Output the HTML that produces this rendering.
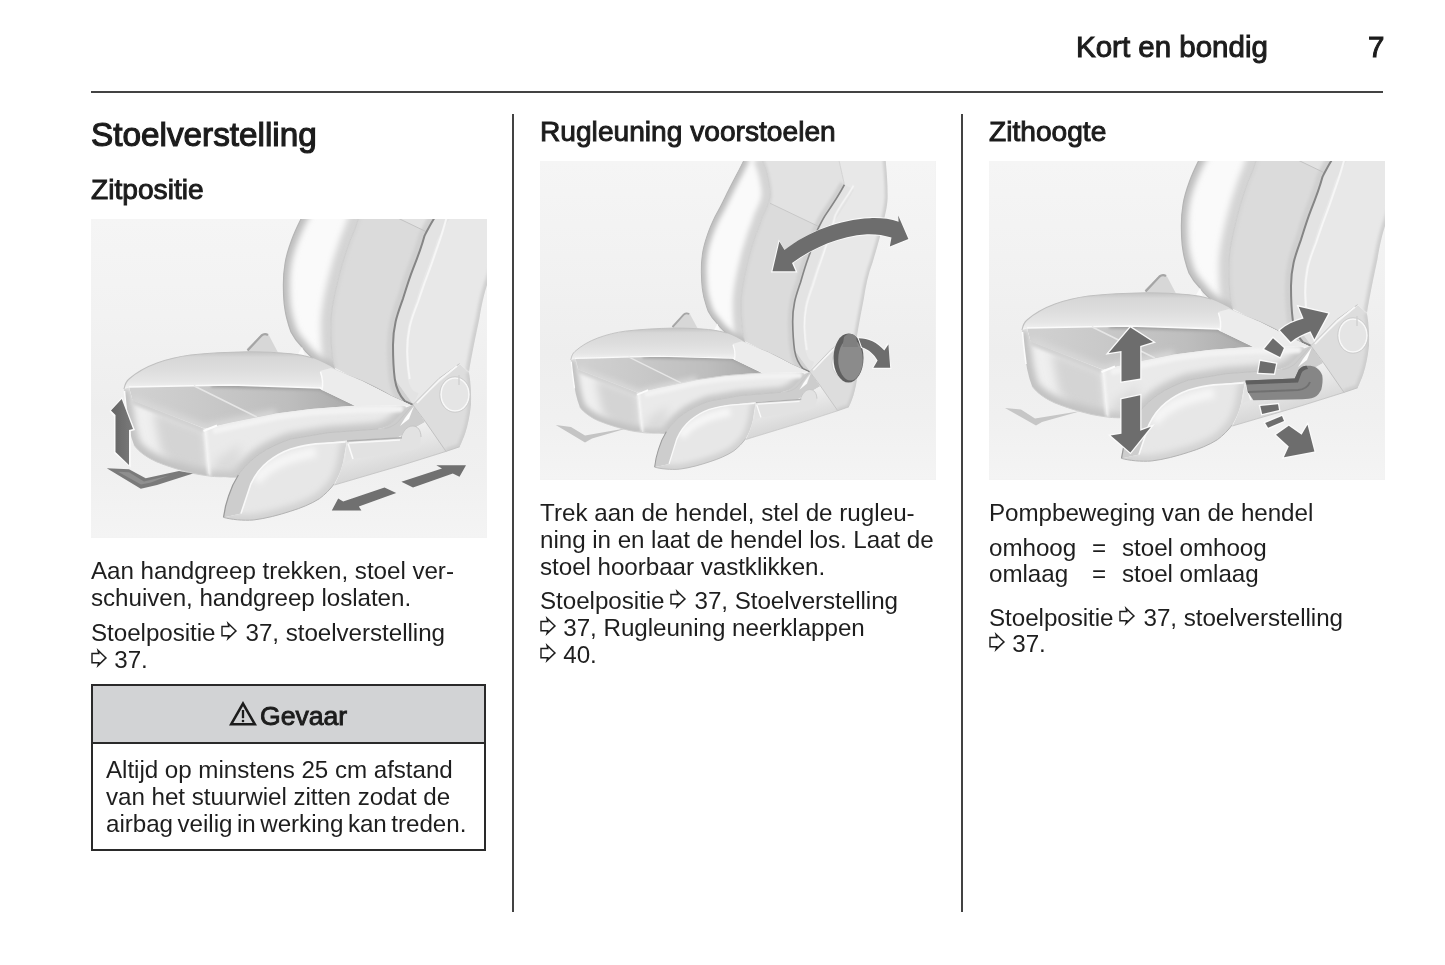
<!DOCTYPE html>
<html lang="nl">
<head>
<meta charset="utf-8">
<title>Kort en bondig - Stoelverstelling</title>
<style>
html,body{margin:0;padding:0;background:#fff;}
body{width:1445px;height:965px;position:relative;overflow:hidden;
  font-family:"Liberation Sans",sans-serif;color:#1c1c1c;}
.abs{position:absolute;white-space:nowrap;will-change:transform;}
.hd{font-size:29.5px;line-height:34px;-webkit-text-stroke:1px #1c1c1c;}
.h1{font-size:33.3px;line-height:38px;-webkit-text-stroke:1.15px #1c1c1c;}
.h2{font-size:28.15px;line-height:32px;-webkit-text-stroke:0.95px #1c1c1c;}
.t{font-size:24.2px;line-height:27px;color:#1e1e1e;letter-spacing:-0.045px;}
.rule{position:absolute;background:#434343;}
.img{position:absolute;width:395.5px;height:318.5px;overflow:hidden;background:#f2f2f2;}
.img svg{position:absolute;left:0;top:0;}
.ar{display:inline-block;width:17px;height:20px;vertical-align:0.3px;margin:0 7.5px 0 5.5px;}
.ar0{margin-left:0;margin-right:6.3px;}
.warn{position:absolute;left:91px;top:684px;width:391px;height:163px;border:2px solid #2a2a2a;background:#fff;}
.warn .wh{position:absolute;left:0;top:0;width:391px;height:56px;background:#d2d3d5;border-bottom:2px solid #2a2a2a;}
</style>
</head>
<body>

<!-- running header -->
<div class="abs hd" id="hd1" style="left:1076.4px;top:29.9px;">Kort en bondig</div>
<div class="abs hd" id="hd2" style="left:1368.3px;top:29.9px;">7</div>
<div class="rule" style="left:91px;top:90.9px;width:1292.2px;height:2.1px;"></div>

<!-- column separators -->
<div class="rule" style="left:511.9px;top:113.7px;width:2.1px;height:798.1px;"></div>
<div class="rule" style="left:960.8px;top:113.7px;width:2.1px;height:798.1px;"></div>

<!-- column 1 -->
<div class="abs h1" id="h1" style="left:91px;top:115.7px;">Stoelverstelling</div>
<div class="abs h2" id="h2a" style="left:91px;top:173.9px;">Zitpositie</div>
<div class="img" id="img1" style="left:91px;top:219px;">
<svg width="395.5" height="318.5" viewBox="0 0 395.5 318.5">
<defs>
  <linearGradient id="gBg" x1="0" y1="0" x2="0" y2="1">
    <stop offset="0" stop-color="#f5f5f5"/><stop offset="0.3" stop-color="#f2f2f2"/><stop offset="0.6" stop-color="#eeeeee"/><stop offset="0.8" stop-color="#f0f0f0"/><stop offset="1" stop-color="#f4f4f4"/>
  </linearGradient>
  <linearGradient id="gLB" gradientUnits="userSpaceOnUse" x1="196" y1="80" x2="246" y2="70">
    <stop offset="0" stop-color="#c9c9c9"/><stop offset="0.18" stop-color="#e6e6e6"/><stop offset="0.5" stop-color="#f8f8f8"/><stop offset="0.85" stop-color="#efefef"/><stop offset="1" stop-color="#d9d9d9"/>
  </linearGradient>
  <linearGradient id="gCP" gradientUnits="userSpaceOnUse" x1="245" y1="60" x2="315" y2="90">
    <stop offset="0" stop-color="#dcdcdc"/><stop offset="0.5" stop-color="#e1e1e1"/><stop offset="1" stop-color="#dedede"/>
  </linearGradient>
  <linearGradient id="gRB" gradientUnits="userSpaceOnUse" x1="315" y1="80" x2="392" y2="100">
    <stop offset="0" stop-color="#e2e2e2"/><stop offset="0.12" stop-color="#f6f6f6"/><stop offset="0.3" stop-color="#ebebeb"/><stop offset="0.8" stop-color="#e9e9e9"/><stop offset="1" stop-color="#dedede"/>
  </linearGradient>
  <linearGradient id="gPanel" gradientUnits="userSpaceOnUse" x1="50" y1="185" x2="260" y2="180">
    <stop offset="0" stop-color="#d0d0d0"/><stop offset="0.3" stop-color="#c9c9c9"/><stop offset="0.7" stop-color="#bebebe"/><stop offset="1" stop-color="#ababab"/>
  </linearGradient>
  <linearGradient id="gFront" gradientUnits="userSpaceOnUse" x1="70" y1="185" x2="60" y2="250">
    <stop offset="0" stop-color="#f4f4f4"/><stop offset="0.45" stop-color="#ececec"/><stop offset="1" stop-color="#cdcdcd"/>
  </linearGradient>
  <linearGradient id="gRim" gradientUnits="userSpaceOnUse" x1="0" y1="134" x2="0" y2="170">
    <stop offset="0" stop-color="#c8c8c8"/><stop offset="0.12" stop-color="#d7d7d7"/><stop offset="0.5" stop-color="#dedede"/><stop offset="0.8" stop-color="#e6e6e6"/><stop offset="0.94" stop-color="#efefef"/><stop offset="1" stop-color="#fafafa"/>
  </linearGradient>
  <linearGradient id="gSide" gradientUnits="userSpaceOnUse" x1="200" y1="192" x2="206" y2="222">
    <stop offset="0" stop-color="#f6f6f6"/><stop offset="0.5" stop-color="#ededed"/><stop offset="1" stop-color="#d8d8d8"/>
  </linearGradient>
  <linearGradient id="gTrim" gradientUnits="userSpaceOnUse" x1="170" y1="240" x2="215" y2="300">
    <stop offset="0" stop-color="#f2f2f2"/><stop offset="0.5" stop-color="#e6e6e6"/><stop offset="1" stop-color="#dcdcdc"/>
  </linearGradient>
  <linearGradient id="gTrim2" gradientUnits="userSpaceOnUse" x1="280" y1="215" x2="290" y2="255">
    <stop offset="0" stop-color="#f0f0f0"/><stop offset="0.5" stop-color="#e4e4e4"/><stop offset="1" stop-color="#d6d6d6"/>
  </linearGradient>
  <linearGradient id="gArrowV" gradientUnits="userSpaceOnUse" x1="22" y1="0" x2="40" y2="0">
    <stop offset="0" stop-color="#666"/><stop offset="1" stop-color="#787878"/>
  </linearGradient>
  <filter id="fSoft" filterUnits="userSpaceOnUse" x="-100" y="-150" width="700" height="650"><feGaussianBlur stdDeviation="0.65"/></filter>
  <filter id="fSoft2" filterUnits="userSpaceOnUse" x="-100" y="-150" width="700" height="650"><feGaussianBlur stdDeviation="1.6"/></filter>
  <filter id="fSoft3" filterUnits="userSpaceOnUse" x="-100" y="-150" width="700" height="650"><feGaussianBlur stdDeviation="3"/></filter>
  <filter id="fSoft4" filterUnits="userSpaceOnUse" x="-100" y="-150" width="700" height="650"><feGaussianBlur stdDeviation="5"/></filter>
</defs>

<rect x="0" y="0" width="395.5" height="318.5" fill="url(#gBg)"/>
<g filter="url(#fSoft)">
<g id="seat">
  <clipPath id="cRB"><path d="M360 -70 L367 -37 C360 -24 350 -10 342.8 0 C339 6 336 12 333.6 16.6 C330 30 326 40 322 49.8 C318 60 315 70 312 79.6 C309 88 306 96 304.6 102.8 C302.5 112 302 120 302 126 C302 140 302.5 150 303.8 160 L324 188 L369 145 L378 153 C380 140 384 120 388.4 99.5 C391 84 394 70 400 55 C406 36 411 20 414 6 C417 -6 419 -14 419 -23 C419.5 -40 418 -55 417 -70 Z"/></clipPath>
  <clipPath id="cLB"><path d="M247.4 -70 C240 -55 230 -38 222.5 -23 C218 -14 213.5 -6 210 0 C206.5 7 203 14.5 200.5 21.5 C197 31 195 38 194 45 C192.8 52 192.3 59 192.4 66 C192.4 73 192.6 79 193.2 85 C194 91 194.8 96 196 100 C197.3 105 198.5 109 200 113 C203 119 206.5 123.5 211 128 C216 135 222 140 229 144 C235 147.5 240 149.5 244 150 L244 149 C243 146 241.5 140 240.8 132.7 C240 122 239.5 112 240 99.5 C241 88 243 78 245.8 66.3 C249 52 253 38 259 21.6 C262 15 264 10 267.3 0 C271 -7 275 -14 276.6 -23 C277 -30 276.5 -36 274.5 -45 C273.5 -52 271 -60 266.5 -70 Z"/></clipPath>
  <clipPath id="cCP"><path d="M266.5 -70 C271 -60 273.5 -52 274.5 -45 C276.5 -36 277 -30 276.6 -23 C275 -14 271 -7 267.3 0 C264 10 262 15 259 21.6 C253 38 249 52 245.8 66.3 C243 78 241 88 240 99.5 C239.5 112 240 122 240.8 132.7 C241.5 140 243 146 244 149 C255 155 262 158 271 162 C282 167 292 172 300 177 L324 188 L303.8 160 C302.5 150 302 140 302 126 C302 120 302.5 112 304.6 102.8 C306 96 309 88 312 79.6 C315 70 318 60 322 49.8 C326 40 330 30 333.6 16.6 C336 12 339 6 342.8 0 C350 -10 360 -24 367 -37 L360 -70 Z"/></clipPath>
  <clipPath id="cFront"><path d="M33 170 L38 168.5 L41.5 181 L114 210 L118 256.5 C112 256.2 107 255.3 102.8 254.5 C90 251.5 77 247.5 66 243 C56 238.5 48 233 43 226 C39 216 37 204 35.6 193 C34.3 184 33.3 176 33 170 Z"/></clipPath>
  <clipPath id="cSide"><path d="M114 210 L140 204 L185.6 194 L220 189.5 L265 187 L312 186.5 L316 188 C312 196 308 201 302 204.5 C297 207.5 292 209 287 210 L237 213.7 L199.7 220 C188 224 177 229 168.6 234.9 C160 241 152 249 147.4 256 L146 258.5 C138 258.5 128 258 118 256.5 Z"/></clipPath>
  <clipPath id="cPanel"><path d="M38 168 L140 166 L229 169 L265 186.5 L220 190 L185 194.5 L140 203.5 L114 209.5 L41.5 181.5 Z"/></clipPath>
  <clipPath id="cTrimF"><path d="M150 294.6 L159.9 264.8 C164 256 170 248 177.3 242.3 C184 237 191 233 199.7 229.9 C207 228 215 226 224.6 224.9 L255.8 222.4 L252 243.6 C250 252 247 259 243.3 264.8 C239 270.5 234 275.5 228.4 279.7 C220 285 210 289 199.7 292.2 C188 296 175 299.5 162.4 300.9 C152 301.5 140 300.5 132.5 298.4 Z"/></clipPath>
  <clipPath id="cTrimR"><path d="M255.8 221.5 L306 218.5 L334 203 L322 186 L369 145 L378 153.5 C380 165 380.3 176 380 185.6 C379 196 377 206 374.3 214 C372.5 219 370.5 224 368.6 227.8 L355 232.4 L311.6 246 L243.3 266 C247 259 250 252 252 243.6 Z"/></clipPath>

  <!-- backrest right bolster / side -->
  <g clip-path="url(#cRB)">
    <path d="M360 -70 L367 -37 C360 -24 350 -10 342.8 0 C339 6 336 12 333.6 16.6 C330 30 326 40 322 49.8 C318 60 315 70 312 79.6 C309 88 306 96 304.6 102.8 C302.5 112 302 120 302 126 C302 140 302.5 150 303.8 160 L324 188 L369 145 L378 153 C380 140 384 120 388.4 99.5 C391 84 394 70 400 55 C406 36 411 20 414 6 C417 -6 419 -14 419 -23 C419.5 -40 418 -55 417 -70 Z" fill="#e8e8e8"/>
    <path d="M378 153 C380 140 384 120 388.4 99.5 C391 84 394 70 400 55 C406 36 411 20 414 6 C417 -6 419 -14 419 -23 C419.5 -40 418 -55 417 -70" stroke="#cfcfcf" stroke-width="7" fill="none" filter="url(#fSoft2)"/>
    <path d="M367 -37 C360 -24 350 -10 342.8 0 C339 6 336 12 333.6 16.6 C330 30 326 40 322 49.8 C318 60 315 70 312 79.6 C309 88 306 96 304.6 102.8 C302.5 112 302 120 302 126 C302 140 302.5 150 303.8 160 C305 168 308 176 313.9 182.2 L322 186" stroke="#e3e3e3" stroke-width="26" fill="none"/>
    <path d="M378 -36 C370 -22 361 -12 355.2 0 C353 8 351 15 348.6 21.6 C345 32 341 44 337 54.7 C333 65 330 74 327 83 C323 93 320.5 100 318.7 107.8 C317 116 316.2 124 316.2 132.7 C316.4 142 317 150 318.7 160" stroke="#f6f6f6" stroke-width="2" fill="none" filter="url(#fSoft)"/>
  </g>
  <!-- backrest centre panel -->
  <g clip-path="url(#cCP)">
    <path d="M266.5 -70 C271 -60 273.5 -52 274.5 -45 C276.5 -36 277 -30 276.6 -23 C275 -14 271 -7 267.3 0 C264 10 262 15 259 21.6 C253 38 249 52 245.8 66.3 C243 78 241 88 240 99.5 C239.5 112 240 122 240.8 132.7 C241.5 140 243 146 244 149 C255 155 262 158 271 162 C282 167 292 172 300 177 L324 188 L303.8 160 C302.5 150 302 140 302 126 C302 120 302.5 112 304.6 102.8 C306 96 309 88 312 79.6 C315 70 318 60 322 49.8 C326 40 330 30 333.6 16.6 C336 12 339 6 342.8 0 C350 -10 360 -24 367 -37 L360 -70 Z" fill="#dbdbdb"/>
    <path d="M276.6 -15.5 L308.8 0 L335 12.6 L342.8 0 C350 -10 360 -24 367 -37 L360 -70 L266.5 -70 C271 -60 273.5 -52 274.5 -45 C276.5 -36 277 -30 276.6 -23 Z" fill="#e2e2e2"/>
    <path d="M367 -37 C360 -24 350 -10 342.8 0 C339 6 336 12 333.6 16.6 C330 30 326 40 322 49.8 C318 60 315 70 312 79.6 C309 88 306 96 304.6 102.8 C302.5 112 302 120 302 126 C302 140 302.5 150 303.8 160 C305 168 308 176 313.9 182.2 L322 186" stroke="#d0d0d0" stroke-width="12" fill="none" filter="url(#fSoft2)"/>
    <path d="M266.5 -70 C271 -60 273.5 -52 274.5 -45 C276.5 -36 277 -30 276.6 -23 C275 -14 271 -7 267.3 0 C264 10 262 15 259 21.6 C253 38 249 52 245.8 66.3 C243 78 241 88 240 99.5 C239.5 112 240 122 240.8 132.7 C241.5 140 243 146 244 149" stroke="#d6d6d6" stroke-width="6" fill="none" filter="url(#fSoft2)"/>
  </g>
  <path d="M276.6 -15.5 L308.8 0 L335 12.6" stroke="#c3c3c3" stroke-width="1" fill="none"/>
  <!-- left bolster -->
  <g clip-path="url(#cLB)">
    <path d="M247.4 -70 C240 -55 230 -38 222.5 -23 C218 -14 213.5 -6 210 0 C206.5 7 203 14.5 200.5 21.5 C197 31 195 38 194 45 C192.8 52 192.3 59 192.4 66 C192.4 73 192.6 79 193.2 85 C194 91 194.8 96 196 100 C197.3 105 198.5 109 200 113 C203 119 206.5 123.5 211 128 C216 135 222 140 229 144 C235 147.5 240 149.5 244 150 L244 149 C243 146 241.5 140 240.8 132.7 C240 122 239.5 112 240 99.5 C241 88 243 78 245.8 66.3 C249 52 253 38 259 21.6 C262 15 264 10 267.3 0 C271 -7 275 -14 276.6 -23 C277 -30 276.5 -36 274.5 -45 C273.5 -52 271 -60 266.5 -70 Z" fill="#fafafa"/>
    <path d="M266.5 -70 C271 -60 273.5 -52 274.5 -45 C276.5 -36 277 -30 276.6 -23 C275 -14 271 -7 267.3 0 C264 10 262 15 259 21.6 C253 38 249 52 245.8 66.3 C243 78 241 88 240 99.5 C239.5 112 240 122 240.8 132.7 C241.5 140 243 146 244 149 L246 152" stroke="#d4d4d4" stroke-width="20" fill="none" filter="url(#fSoft3)"/>
    <path d="M247.4 -70 C240 -55 230 -38 222.5 -23 C218 -14 213.5 -6 210 0 C206.5 7 203 14.5 200.5 21.5 C197 31 195 38 194 45 C192.8 52 192.3 59 192.4 66 C192.4 73 192.6 79 193.2 85 C194 91 194.8 96 196 100 C197.3 105 198.5 109 200 113 C203 119 206.5 123.5 211 128 C216 135 222 140 229 144 C240 150 256 156 271 162" stroke="#bdbdbd" stroke-width="12" fill="none" filter="url(#fSoft3)"/>
  </g>
  <path d="M247.4 -70 C240 -55 230 -38 222.5 -23 C218 -14 213.5 -6 210 0 C206.5 7 203 14.5 200.5 21.5 C197 31 195 38 194 45 C192.8 52 192.3 59 192.4 66 C192.4 73 192.6 79 193.2 85 C194 91 194.8 96 196 100 C197.3 105 198.5 109 200 113 C203 119 206.5 123.5 211 128 C216 135 222 140 229 144 C240 150 256 156 271 162 C282 167 292 172 300 177 L322 187" stroke="#b4b4b4" stroke-width="1.2" fill="none"/>
  <path d="M266.5 -70 C271 -60 273.5 -52 274.5 -45 C276.5 -36 277 -30 276.6 -23 C275 -14 271 -7 267.3 0 C264 10 262 15 259 21.6 C253 38 249 52 245.8 66.3 C243 78 241 88 240 99.5 C239.5 112 240 122 240.8 132.7 C241.5 140 243 146 244 149" stroke="#cdcdcd" stroke-width="1" fill="none"/>
  <!-- dark line -->
  <path d="M367 -37 C360 -24 350 -10 342.8 0 C339 6 336 12 333.6 16.6 C330 30 326 40 322 49.8 C318 60 315 70 312 79.6 C309 88 306 96 304.6 102.8 C302.5 112 302 120 302 126 C302 140 302.5 150 303.8 160 C305 168 308 176 313.9 182.2 L322 186" stroke="#858585" stroke-width="2" fill="none"/>
  <path d="M360 -70 L367 -37" stroke="#cfcfcf" stroke-width="1" fill="none"/>

  <!-- belt buckle -->
  <path d="M156 129.5 L170 116 C172 114.3 175 114.3 177.5 115.5 L187 133.5 L158 134 Z" fill="#d7d7d7"/>
  <path d="M156.5 131.5 L170.5 116.5 C172.5 115 175 115 177 116" stroke="#a5a5a5" stroke-width="2.2" fill="none"/>
  <path d="M211 128 L207 135 L214 137 Z" fill="#fafafa"/>

  <!-- cushion rim -->
  <path d="M33 170 C34 165 35.5 162 38 160 C46 153 55 148 66 144 C77 140 88 137.5 99.5 136 C118 134 138 133 157.5 132.7 C172 132.7 186 133.3 200 134.7 C208 135.5 215 137 222 139 C230 142 238 146 244 150 C256 156 266 160 271 162 L300 177 L322 187 L316 190 L265 187 L229 169.5 L140 166.5 L38 168.5 Z" fill="url(#gRim)"/>
  <path d="M33 170 C34 165 35.5 162 38 160 C46 153 55 148 66 144 C77 140 88 137.5 99.5 136 C118 134 138 133 157.5 132.7 C172 132.7 186 133.3 200 134.7 C208 135.5 215 137 222 139" stroke="#c0c0c0" stroke-width="1.1" fill="none"/>
  <!-- cushion front face -->
  <g clip-path="url(#cFront)">
    <path d="M33 170 L38 168.5 L41.5 181 L114 210 L118 256.5 C112 256.2 107 255.3 102.8 254.5 C90 251.5 77 247.5 66 243 C56 238.5 48 233 43 226 C39 216 37 204 35.6 193 C34.3 184 33.3 176 33 170 Z" fill="#efefef"/>
    <path d="M62 192 L114 211 L118 257 L84 250 L70 232 Z" fill="#d4d4d4" filter="url(#fSoft4)"/>
    <path d="M33 170 C33.3 176 34.3 184 35.6 193 C37 204 39 216 43 226 C48 233 56 238.5 66 243 C77 247.5 90 251.5 102.8 254.5 C112 256.3 122 257.8 129.3 257.8 C136 257.8 142 256.5 146 254.5" stroke="#c2c2c2" stroke-width="14" fill="none" filter="url(#fSoft3)"/>
    <path d="M41.5 181 L114 210" stroke="#d2d2d2" stroke-width="8" fill="none" filter="url(#fSoft2)"/>
  </g>
  <!-- cushion side (right of ridge) -->
  <g clip-path="url(#cSide)">
    <path d="M114 210 L140 204 L185.6 194 L220 189.5 L265 187 L312 186.5 L316 188 C312 196 308 201 302 204.5 C297 207.5 292 209 287 210 L237 213.7 L199.7 220 C188 224 177 229 168.6 234.9 C160 241 152 249 147.4 256 L146 258.5 C138 258.5 128 258 118 256.5 Z" fill="#eaeaea"/>
    <path d="M125 240 L150 225 L146 262 L120 262 Z" fill="#dcdcdc" filter="url(#fSoft4)"/>
    <path d="M118 258 C128 259 138 259.5 146 258.5 L147.4 256 C152 249 160 241 168.6 234.9 C177 229 188 224 199.7 220 L237 213.7 L287 210 C297 208 306 202 316 188" stroke="#c8c8c8" stroke-width="13" fill="none" filter="url(#fSoft3)"/>
    <path d="M122 212 L185.6 198 L220 193.5 L265 191 L312 190" stroke="#f3f3f3" stroke-width="6" fill="none" filter="url(#fSoft2)"/>
  </g>
  <!-- top panel -->
  <g filter="url(#fSoft)">
  <g clip-path="url(#cPanel)">
    <path d="M38 168 L140 166 L229 169 L265 186.5 L220 190 L185 194.5 L140 203.5 L114 209.5 L41.5 181.5 Z" fill="url(#gPanel)"/>
    <path d="M120 166 L229 169 L265 186.5" stroke="#a2a2a2" stroke-width="5" fill="none" filter="url(#fSoft2)"/>
    <path d="M41.5 181.5 L114 209.5 L140 203.5 L185 194.5" stroke="#d8d8d8" stroke-width="8" fill="none" filter="url(#fSoft3)"/>
  </g>
  </g>
  <path d="M38 168 L140 166 L229 169 L265 186.5" stroke="#fbfbfb" stroke-width="1.5" fill="none"/>
  <path d="M102.8 166.8 L165.8 198" stroke="#e6e6e6" stroke-width="1.6" fill="none"/>
  <path d="M114 210.5 L118 256" stroke="#fbfbfb" stroke-width="2.2" fill="none" filter="url(#fSoft2)"/>
  <path d="M112.5 212 L126 206.5" stroke="#fcfcfc" stroke-width="2" fill="none"/>
  <path d="M33.5 172 C34.3 184 35.6 193 37 204" stroke="#fbfbfb" stroke-width="1.6" fill="none"/>
  <path d="M43 226 C48 233 56 238.5 66 243 C77 247.5 90 251.5 102.8 254.5 C112 256.3 122 257.8 129.3 257.8 C136 257.8 142 256.5 146 254.5" stroke="#cdcdcd" stroke-width="1" fill="none"/>
  <!-- rear bolster of cushion -->
  <path d="M229 152 C232 160 232 166 231 171 L265 187 L312 186.5 L322 187 L300 177 L271 162 C262 158 250 153 240 149 Z" fill="#ececec"/>
  <path d="M229.5 153 C232 160 232 166 231 171" stroke="#fbfbfb" stroke-width="1.5" fill="none"/>

  <!-- trim chamfer band -->
  <path d="M147.4 256 C152 249 160 241 168.6 234.9 C177 229 188 224 199.7 220 L237 213.7 L287 210 C293 209 299 206.5 305 200 L316 188 L322 186 L334 203 L306 219 L255.8 221.5 L224.6 224.9 C215 226 207 228 199.7 229.9 C191 233 184 237 177.3 242.3 C170 248 164 256 159.9 264.8 L150 294.6 L132.5 298.4 C133.5 291 135 284 137.5 277.2 C140 269 143.5 262 147.4 256 Z" fill="#cdcdcd"/>
  <!-- trim front face -->
  <g clip-path="url(#cTrimF)">
    <path d="M150 294.6 L159.9 264.8 C164 256 170 248 177.3 242.3 C184 237 191 233 199.7 229.9 C207 228 215 226 224.6 224.9 L255.8 222.4 L252 243.6 C250 252 247 259 243.3 264.8 C239 270.5 234 275.5 228.4 279.7 C220 285 210 289 199.7 292.2 C188 296 175 299.5 162.4 300.9 C152 301.5 140 300.5 132.5 298.4 Z" fill="#e7e7e7"/>
    <path d="M132.5 298.4 C140 300.5 152 301.8 162.4 301 C175 299.5 188 296 199.7 292.2 C210 289 220 285 228.4 279.7 C234 275.5 239 270.5 243.3 264.8 C247 259 250 252 252 243.6 L255.8 222.4" stroke="#d2d2d2" stroke-width="12" fill="none" filter="url(#fSoft3)"/>
    <path d="M165 262 C175 248 195 238 225 233" stroke="#f6f6f6" stroke-width="10" fill="none" filter="url(#fSoft3)"/>
  </g>
  <path d="M150 294.6 L159.9 264.8 C164 256 170 248 177.3 242.3 C184 237 191 233 199.7 229.9 C207 228 215 226 224.6 224.9 L254.5 223" stroke="#f9f9f9" stroke-width="1.6" fill="none"/>
  <path d="M132.5 298.4 C133.5 291 135 284 137.5 277.2 C140 269 143.5 262 147.4 256" stroke="#9a9a9a" stroke-width="1.2" fill="none"/>
  <path d="M132.5 298.4 C140 300.5 152 301.8 162.4 301 C175 299.5 188 296 199.7 292.2 C210 289 220 285 228.4 279.7 C234 275.5 239 270.5 243.3 264.8" stroke="#b2b2b2" stroke-width="1" fill="none"/>
  <path d="M147.4 256 C152 249 160 241 168.6 234.9 C177 229 188 224 199.7 220 L237 213.7 L287 210" stroke="#bfbfbf" stroke-width="0.9" fill="none"/>
  <!-- trim rear piece -->
  <g clip-path="url(#cTrimR)">
    <path d="M255.8 221.5 L306 218.5 L334 203 L322 186 L369 145 L378 153.5 C380 165 380.3 176 380 185.6 C379 196 377 206 374.3 214 C372.5 219 370.5 224 368.6 227.8 L355 232.4 L311.6 246 L243.3 266 C247 259 250 252 252 243.6 Z" fill="url(#gTrim2)"/>
    <path d="M322 186 L369 145 L378 153.5 C380 165 380.3 176 380 185.6 C379 196 377 206 374.3 214 C372.5 219 370.5 224 368.6 227.8 L355 232.4 L334.4 202.7 Z" fill="#dddddd"/>
    <path d="M378 153.5 C380 165 380.3 176 380 185.6 C379 196 377 206 374.3 214 C372.5 219 370.5 224 368.6 227.8 L355 232.4" stroke="#cdcdcd" stroke-width="6" fill="none" filter="url(#fSoft2)"/>
  </g>
  <!-- lever -->
  <path d="M256 222 L310 218.8 C312 212 316 207.5 321 207 C327 206.5 330 212 330 218 C330 225 326 230 320 231.5 L309 233 L262 240 L254 243 Z" fill="#e2e2e2"/>
  <path d="M256 222 L311 218.7" stroke="#b0b0b0" stroke-width="1.4" fill="none"/>
  <path d="M310 218.8 C312 212 316 207.5 321 207 C327 206.5 330 212 330 218" stroke="#c6c6c6" stroke-width="1" fill="none"/>
  <path d="M257 224.5 L262 240" stroke="#fafafa" stroke-width="1.6" fill="none"/>
  <path d="M258 224 L309 221" stroke="#f8f8f8" stroke-width="1.5" fill="none"/>
  <!-- X lines -->
  <path d="M322 186 L334.4 202.7 L355 232.4" stroke="#c2c2c2" stroke-width="1" fill="none"/>
  <path d="M368.6 144.6 L348 159.4 L322 185.6 L306 203.9 C302 207 298 208.8 293.4 209.6" stroke="#c6c6c6" stroke-width="1" fill="none"/>
  <path d="M323 187 L314 199 L309 207 L318 200 Z" fill="#fcfcfc" filter="url(#fSoft)"/>
  <path d="M366 147 L349 160.5 L326 184" stroke="#f7f7f7" stroke-width="1.6" fill="none"/>
  <path d="M243.3 266 L311.6 246 L355 232.4 L368.6 227.8" stroke="#c2c2c2" stroke-width="0.9" fill="none"/>
  <!-- knob -->
  <g class="knob">
  <ellipse cx="364" cy="175.5" rx="14" ry="16.5" fill="#e5e5e5" stroke="#f8f8f8" stroke-width="1.6"/>
  <ellipse cx="364" cy="175.5" rx="15.3" ry="17.8" fill="none" stroke="#cccccc" stroke-width="0.9"/>
  <path d="M368 156 L368 166" stroke="#d0d0d0" stroke-width="1.4"/>
  </g>
</g>

<!-- front handle -->
<path d="M15.8 249.3 L38 250.2 L54.7 259.3 L88 252 L102 254.5 L66 266 L49.8 269.7 Z" fill="#7a7a7a"/>
<path d="M27 252.8 L38 253.3 L53 262.5 L78 256.5 L60 263.5 L50 265.5 Z" fill="#8f8f8f"/>
<!-- up arrow -->
<path d="M31 178 L44 211 L39.8 212.2 L39.8 248.5 L23 234 L23 197.5 L18.5 192 Z" fill="#fafafa"/>
<path d="M30.7 180 L20 191.5 L24.5 196 L24.5 233 L38 246 L38 211 L42 210 Z" fill="url(#gArrowV)"/>
<!-- right arrow -->
<path d="M310.4 262.8 L322 268.6 L361.8 254.5 L368.5 257.8 L375 246.2 L345.3 246.2 L351 249.5 Z" fill="#6f6f6f"/>
<!-- left arrow -->
<path d="M240.8 291.6 L247.2 279.5 L252.2 282.5 L293.5 268.5 L305.2 274 L267.8 287.4 L270.4 291.6 Z" fill="#6f6f6f"/>
</g>
</svg>

</div>
<div class="abs t" id="c1l1" style="left:91px;top:556.7px;">Aan handgreep trekken, stoel ver-</div>
<div class="abs t" id="c1l2" style="left:91px;top:583.7px;">schuiven, handgreep loslaten.</div>
<div class="abs t" id="c1l3" style="left:91px;top:618.7px;">Stoelpositie<svg class="ar" viewBox="0 0 17 20"><path d="M1 5.4H7.8L7 2.3L15 9.9L7 17.5L7.8 14.8H1z" fill="none" stroke="#1e1e1e" stroke-width="1.45" stroke-linejoin="miter" stroke-miterlimit="10"/></svg>37, stoelverstelling</div>
<div class="abs t" id="c1l4" style="left:91px;top:645.7px;"><svg class="ar ar0" viewBox="0 0 17 20"><path d="M1 5.4H7.8L7 2.3L15 9.9L7 17.5L7.8 14.8H1z" fill="none" stroke="#1e1e1e" stroke-width="1.45" stroke-linejoin="miter" stroke-miterlimit="10"/></svg>37.</div>

<div class="warn">
  <div class="wh"></div>
</div>
<svg class="abs" style="left:229px;top:701px;" width="28" height="25" viewBox="0 0 28 25"><path d="M14 2.6L25.8 23.2H2.2z" fill="none" stroke="#1c1c1c" stroke-width="2.6" stroke-linejoin="miter"/><path d="M14 9v8.2" stroke="#1c1c1c" stroke-width="2.3"/><circle cx="14" cy="20" r="1.3" fill="#1c1c1c"/></svg>
<div class="abs" id="gev" style="left:259.5px;top:700px;font-size:26.6px;line-height:32px;-webkit-text-stroke:0.9px #1c1c1c;">Gevaar</div>
<div class="abs t" id="w1" style="left:105.5px;top:755.7px;">Altijd op minstens 25 cm afstand</div>
<div class="abs t" id="w2" style="left:105.5px;top:782.7px;">van het stuurwiel zitten zodat de</div>
<div class="abs t" id="w3" style="word-spacing:-2.1px;left:105.5px;top:809.7px;">airbag veilig in werking kan treden.</div>

<!-- column 2 -->
<div class="abs h2" id="h2b" style="left:540px;top:115.5px;">Rugleuning voorstoelen</div>
<div class="img" id="img2" style="left:540px;top:161px;">
<svg width="395.5" height="318.5" viewBox="0 0 395.5 318.5">
<rect x="0" y="0" width="395.5" height="318.5" fill="url(#gBg)"/>
<g filter="url(#fSoft)">
<g transform="matrix(0.8267 -0.0049 0.012 0.8387 1.5 56.55)"><use href="#seat"/></g>
<!-- front handle (light) -->
<path d="M15.8 264 L31 266 L45 274.5 L88 267 L52 277.5 L45 281.5 Z" fill="#c4c4c4"/>
<!-- dark recliner wheel -->
<ellipse cx="308.5" cy="197" rx="15" ry="24.5" fill="#5f5f5f"/>
<ellipse cx="310.5" cy="198.5" rx="12.3" ry="21" fill="#8b8b8b"/>
<path d="M304 176 C307 171.5 313 171.5 316 176 L318 186 L302.5 186 Z" fill="#7f7f7f"/>
<!-- big curved double arrow -->
<path d="M231 111.5 L238.8 78.5 L245 89.5 C268 70 300 57.5 330 56 C340 55.6 350 56.5 359.5 60 L357.5 52.5 L370 78.5 L348.5 87 L352 77.5 C344 74.5 336 74 327 74.3 C300 76 274 87 253.5 102 L257.5 111.5 Z" fill="#fafafa"/>
<path d="M232.5 110.3 L239.4 80.5 L244.5 89 C268 70.5 300 58.5 330 57.2 C340 56.8 350 57.8 358.6 60.8 L358.2 54.5 L368.4 78 L349.8 85.6 L351.5 76.6 C344 74 336 73 327 73.2 C300 75 274 86 252 102 L255.6 110.3 Z" fill="#6d6d6d"/>
<!-- small curved arrow -->
<path d="M317.5 176.3 C328 176 338 180.5 344 188 L347.5 181.5 L351.5 208 L331.5 208 L336.5 199.8 C333 193.5 328 189 321 187 Z" fill="#fafafa"/>
<path d="M318.7 177.3 C328 177.3 337.5 181.5 344.3 189.5 L348.4 183.5 L350.2 206.8 L333.4 206.8 L337.6 199.5 C334 193 329 188.7 322 186.2 Z" fill="#6d6d6d"/>
</g>
</svg>

</div>
<div class="abs t" id="c2l1" style="letter-spacing:0.012px;left:540px;top:498.7px;">Trek aan de hendel, stel de rugleu-</div>
<div class="abs t" id="c2l2" style="left:540px;top:525.7px;">ning in en laat de hendel los. Laat de</div>
<div class="abs t" id="c2l3" style="left:540px;top:552.7px;">stoel hoorbaar vastklikken.</div>
<div class="abs t" id="c2l4" style="left:540px;top:586.9px;">Stoelpositie<svg class="ar" viewBox="0 0 17 20"><path d="M1 5.4H7.8L7 2.3L15 9.9L7 17.5L7.8 14.8H1z" fill="none" stroke="#1e1e1e" stroke-width="1.45" stroke-linejoin="miter" stroke-miterlimit="10"/></svg>37, Stoelverstelling</div>
<div class="abs t" id="c2l5" style="left:540px;top:614.1px;"><svg class="ar ar0" viewBox="0 0 17 20"><path d="M1 5.4H7.8L7 2.3L15 9.9L7 17.5L7.8 14.8H1z" fill="none" stroke="#1e1e1e" stroke-width="1.45" stroke-linejoin="miter" stroke-miterlimit="10"/></svg>37, Rugleuning neerklappen</div>
<div class="abs t" id="c2l6" style="left:540px;top:640.9px;"><svg class="ar ar0" viewBox="0 0 17 20"><path d="M1 5.4H7.8L7 2.3L15 9.9L7 17.5L7.8 14.8H1z" fill="none" stroke="#1e1e1e" stroke-width="1.45" stroke-linejoin="miter" stroke-miterlimit="10"/></svg>40.</div>

<!-- column 3 -->
<div class="abs h2" id="h2c" style="left:989px;top:115.5px;">Zithoogte</div>
<div class="img" id="img3" style="left:989px;top:161px;">
<svg width="395.5" height="318.5" viewBox="0 0 395.5 318.5">
<rect x="0" y="0" width="395.5" height="318.5" fill="url(#gBg)"/>
<g filter="url(#fSoft)">
<g transform="translate(0 -1)"><use href="#seat"/></g>
<!-- front handle (light) -->
<path d="M16 247 L32 248.5 L46 257.5 L92 250 L53 261 L47 264.5 Z" fill="#c6c6c6"/>
<g stroke="#fafafa" stroke-width="2.6" stroke-linejoin="miter" fill="#6d6d6d" paint-order="stroke">
<!-- up arrow -->
<path d="M141.4 166.4 L164 181 L151.2 185 L151.2 217.6 L132.5 220.5 L132.5 190 L119.7 192 Z"/>
<!-- down arrow -->
<path d="M132.5 238.2 L151.2 234.3 L151.2 269.7 L162 265.8 L141.4 291.4 L121.7 274.6 L132.5 272.7 Z"/>
<!-- top curved arrow head -->
<path d="M339.2 152.6 L325.4 178.2 L321.5 170.3 C314 173 307 176.5 301.8 181.1 L291 169.3 C297 164 305 160 314.6 157.5 L309.7 145.7 Z"/>
<!-- dashes -->
<path d="M284 177.2 L294.9 187 L291 195.9 L275.2 188 Z"/>
<path d="M271.3 199.9 L287 202.8 L285 212.6 L269.3 211.7 Z"/>
<path d="M271.3 245.1 L289 243.2 L290 249 L273.2 253 Z"/>
<path d="M276.2 261.9 L293 255 L295 259.9 L279.1 266.8 Z"/>
<!-- bottom curved arrow head -->
<path d="M287 273.7 L299.8 264.8 L312.6 273.7 L318.5 263.8 L325.4 290.4 L294.9 296.3 L299.8 285.5 Z"/>
</g>
<!-- dark lever -->
<path d="M256.5 219.5 L305.7 217.6 L309.7 208.7 C312 206 314.5 205 317.5 204.8 C321 204.5 324.5 205 327.4 206.7 C330 208.5 332.3 211 333.3 214.6 C334 219 333.5 224 332.3 228.4 C330.5 232 328.5 234.5 325.4 236.3 C321.5 237.8 317.5 238.2 313.6 238.2 L264.4 239.2 L258.5 230.4 Z" fill="#868686"/>
<path d="M256.5 219.5 L305.7 217.6 L309.7 208.7 C312 206 314.5 205 317.5 204.8 L319 208 C315.5 208.5 313.5 210 312.5 212 L309 221.5 L257.5 223.5 Z" fill="#5e5e5e"/>
<path d="M259 231 L309 229 C315 228.5 319 226 321 221" stroke="#707070" stroke-width="2" fill="none"/>
</g>
</svg>

</div>
<div class="abs t" id="c3l1" style="left:989px;top:498.7px;">Pompbeweging van de hendel</div>
<div class="abs t" id="c3l2" style="left:989px;top:534.3px;">omhoog</div>
<div class="abs t" id="c3l2b" style="left:1092px;top:534.3px;">=</div>
<div class="abs t" id="c3l2c" style="left:1122px;top:534.3px;">stoel omhoog</div>
<div class="abs t" id="c3l3" style="left:989px;top:560.3px;">omlaag</div>
<div class="abs t" id="c3l3b" style="left:1092px;top:560.3px;">=</div>
<div class="abs t" id="c3l3c" style="left:1122px;top:560.3px;">stoel omlaag</div>
<div class="abs t" id="c3l4" style="left:989px;top:603.7px;">Stoelpositie<svg class="ar" viewBox="0 0 17 20"><path d="M1 5.4H7.8L7 2.3L15 9.9L7 17.5L7.8 14.8H1z" fill="none" stroke="#1e1e1e" stroke-width="1.45" stroke-linejoin="miter" stroke-miterlimit="10"/></svg>37, stoelverstelling</div>
<div class="abs t" id="c3l5" style="left:989px;top:630.3px;"><svg class="ar ar0" viewBox="0 0 17 20"><path d="M1 5.4H7.8L7 2.3L15 9.9L7 17.5L7.8 14.8H1z" fill="none" stroke="#1e1e1e" stroke-width="1.45" stroke-linejoin="miter" stroke-miterlimit="10"/></svg>37.</div>

</body>
</html>
